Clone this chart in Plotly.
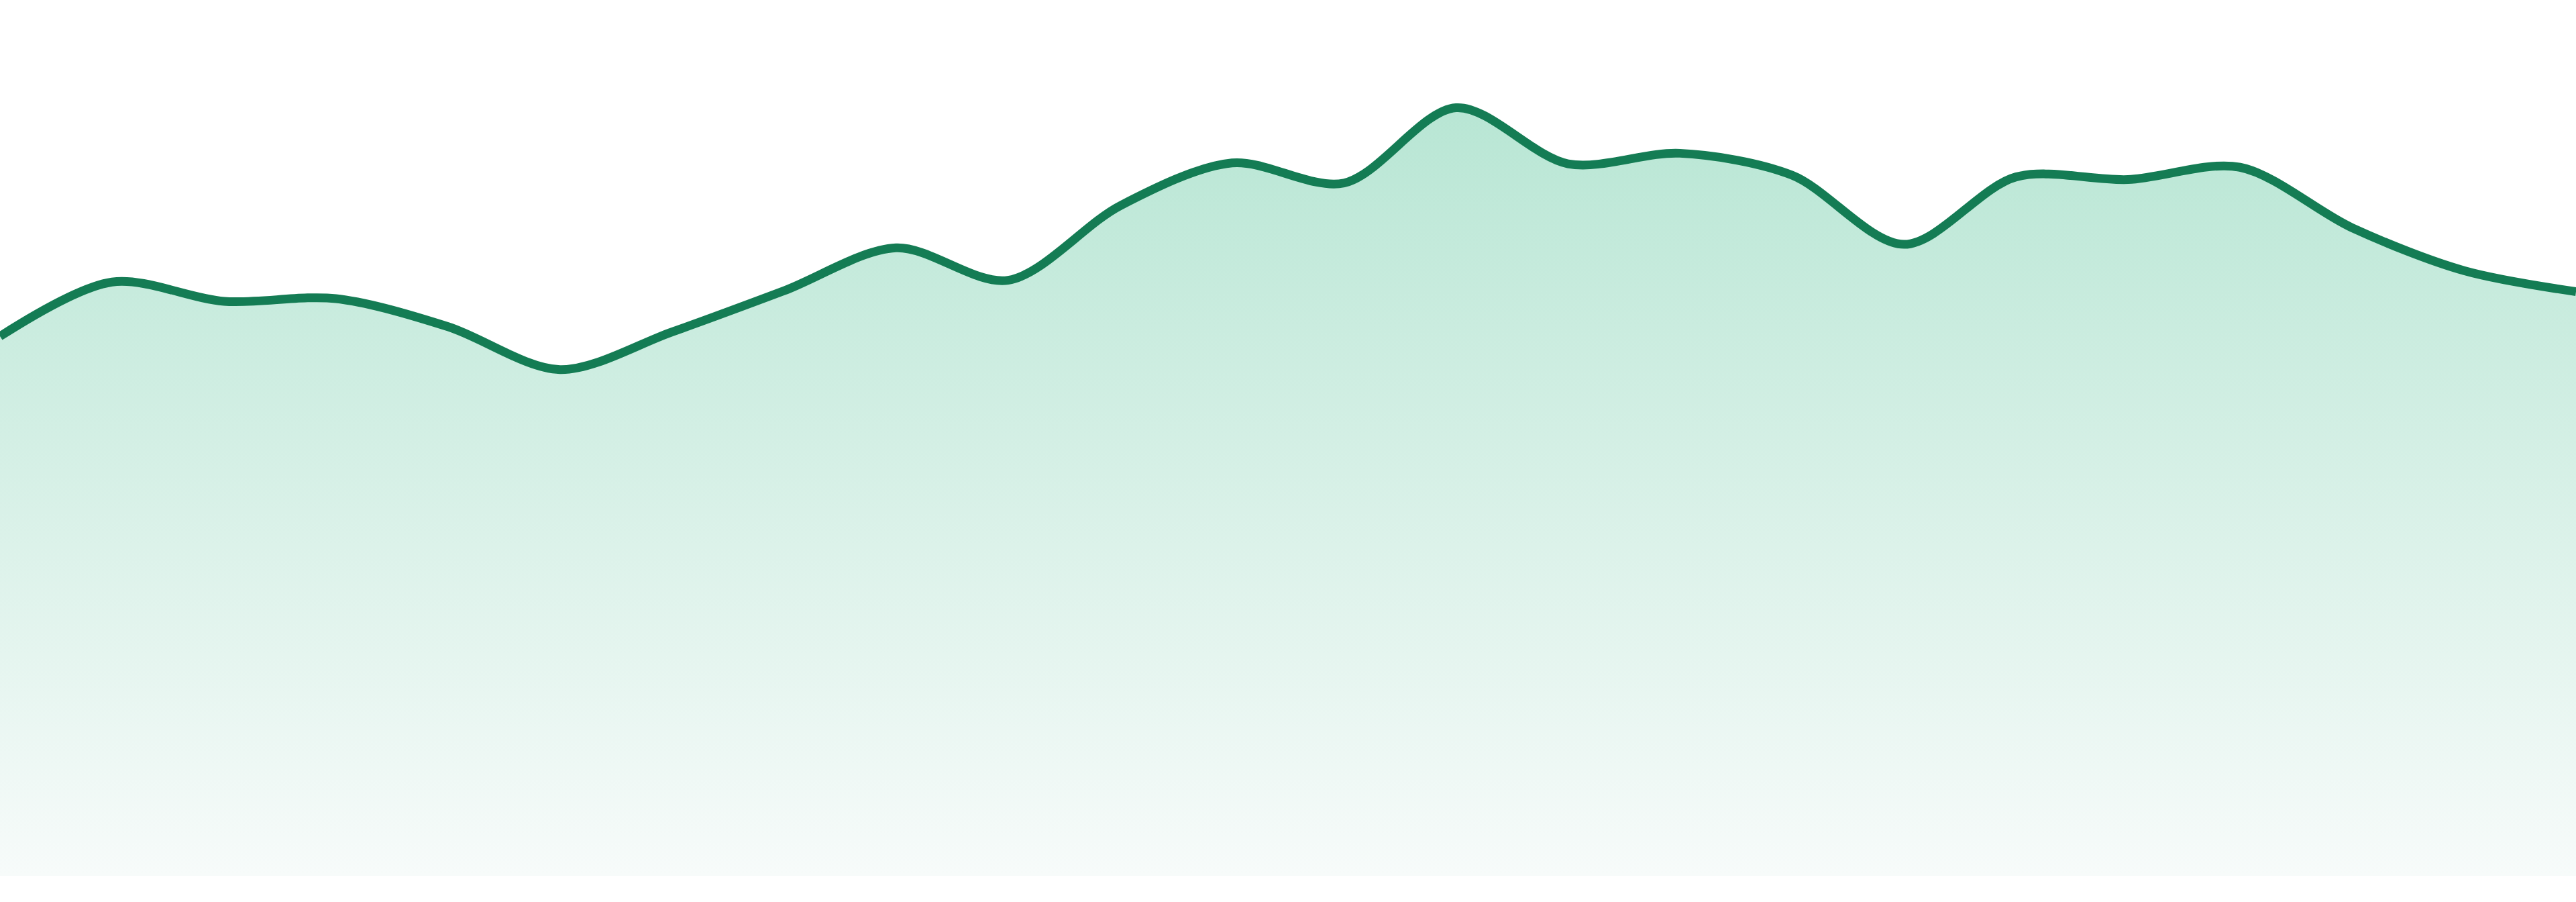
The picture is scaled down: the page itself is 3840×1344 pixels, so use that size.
import plotly.graph_objects as go

# one value per step, left to right
steps = list(range(24))
values = [61.6, 67.8, 65.6, 65.9, 62.7, 57.8, 62.1, 66.8, 71.7, 68.0, 76.5, 81.4,
          79.1, 87.7, 81.3, 82.5, 80.0, 72.1, 79.8, 79.5, 80.9, 74.0, 69.1, 66.7]

line_color = "#147c54"
fill_top = "#b8e6d4"
fill_bottom = "#f7fbfa"

fig = go.Figure()
fig.add_trace(go.Scatter(
    x=steps, y=values,
    mode="lines",
    line=dict(color=line_color, width=13, shape="spline", smoothing=0.9),
    fill="tozeroy",
    fillgradient=dict(type="vertical", start=0, stop=max(values),
                      colorscale=[[0, fill_bottom], [1, fill_top]]),
    hoverinfo="skip",
))

fig.update_xaxes(visible=False, range=[0, 23], showgrid=False, zeroline=False)
fig.update_yaxes(visible=False, range=[0, 100], showgrid=False, zeroline=False)
fig.update_layout(
    width=3840, height=1344,
    margin={"l": 0, "r": 0, "t": 0, "b": 39},
    plot_bgcolor="white", paper_bgcolor="white",
    showlegend=False,
)

# drop the default page margin so the chart sits flush with the window
fig.write_html("out.html", config={"displayModeBar": False},
               post_script="document.body.style.margin='0';")
